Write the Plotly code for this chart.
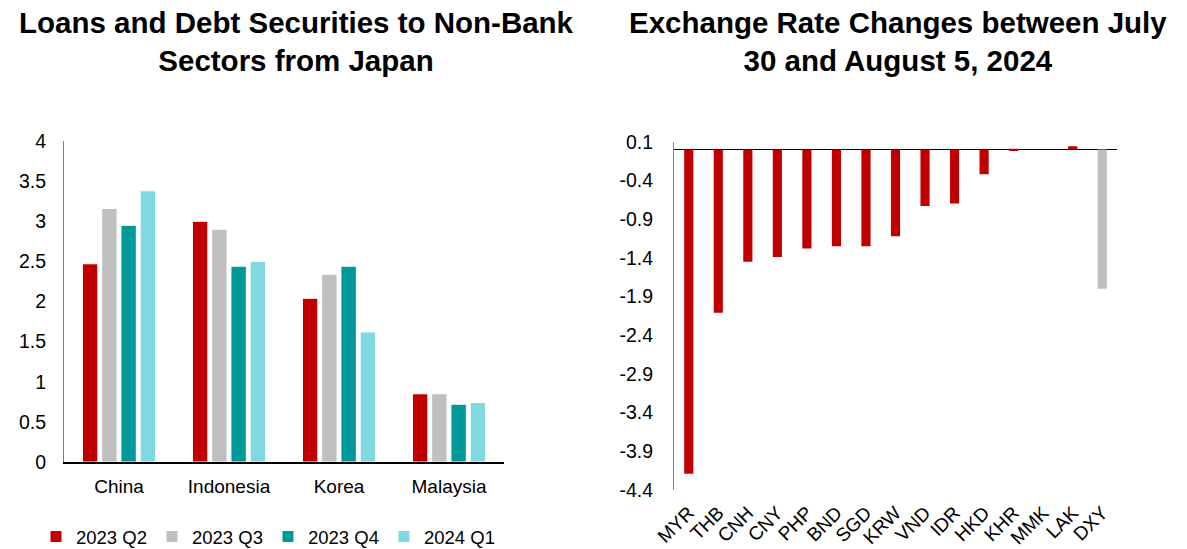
import plotly.graph_objects as go

# Left chart data
countries = ["China", "Indonesia", "Korea", "Malaysia"]
series_names = ["2023 Q2", "2023 Q3", "2023 Q4", "2024 Q1"]
q2_2023 = [2.47, 3.00, 2.04, 0.85]
q3_2023 = [3.16, 2.90, 2.34, 0.85]
q4_2023 = [2.95, 2.44, 2.44, 0.72]
q1_2024 = [3.38, 2.50, 1.62, 0.74]
left_colors = ["#C00000", "#BFBFBF", "#009999", "#80D8E0"]

# Right chart data
currencies = ["MYR", "THB", "CNH", "CNY", "PHP", "BND", "SGD", "KRW", "VND",
              "IDR", "HKD", "KHR", "MMK", "LAK", "DXY"]
fx_changes = [-4.19, -2.11, -1.45, -1.39, -1.28, -1.25, -1.25, -1.12, -0.73,
              -0.70, -0.32, -0.02, 0.0, 0.04, -1.80]
fx_colors = ["#C00000"] * 14 + ["#BFBFBF"]
fx_ticks = [0.1, -0.4, -0.9, -1.4, -1.9, -2.4, -2.9, -3.4, -3.9, -4.4]

FONT = "Liberation Sans, Arial, sans-serif"

fig = go.Figure()
for name, vals, col in zip(series_names, [q2_2023, q3_2023, q4_2023, q1_2024], left_colors):
    fig.add_trace(go.Bar(x=countries, y=vals, name=name, marker_color=col,
                         marker_line=dict(color="white", width=1),
                         xaxis="x", yaxis="y"))

fig.add_trace(go.Bar(x=currencies, y=fx_changes, marker_color=fx_colors,
                     marker_line=dict(width=0), showlegend=False,
                     xaxis="x2", yaxis="y2", width=0.31))

# page body adds an 8px offset; figure sized to the remaining viewport
OFF = 8
W, H = 1187 - OFF, 549 - OFF


def px(x):
    return (x - OFF) / W


def py(y):
    return 1 - (y - OFF) / H


fig.update_layout(
    width=W, height=H,
    margin=dict(l=0, r=0, t=0, b=0, autoexpand=False),
    plot_bgcolor="white", paper_bgcolor="white",
    font=dict(family=FONT, size=19, color="#000000"),
    barmode="group", bargap=0.3, bargroupgap=0.2,
    xaxis=dict(domain=[px(64), px(504)], anchor="y", showline=True,
               linecolor="#000000", linewidth=1.5, ticks="", showgrid=False,
               tickfont=dict(size=19), automargin=False, ticklabelstandoff=6),
    yaxis=dict(domain=[py(462), py(141)], anchor="x", range=[0, 4],
               dtick=0.5, showline=True, linecolor="#7F7F7F", linewidth=1,
               showgrid=False, zeroline=False, ticks="", ticklabelstandoff=13,
               tickfont=dict(size=19.5), automargin=False),
    xaxis2=dict(domain=[px(674), px(1117)], anchor="y2", showline=False,
                ticks="", showgrid=False, tickangle=-45, tickfont=dict(size=19),
                ticklabelstandoff=7, automargin=False),
    yaxis2=dict(domain=[py(490), py(141.7)], anchor="x2",
                range=[-4.4, 0.1], tickvals=fx_ticks,
                ticktext=[f"{v:.1f}" for v in fx_ticks], showline=True,
                linecolor="#7F7F7F", linewidth=1, showgrid=False,
                zeroline=True, zerolinecolor="#000000", zerolinewidth=1.2,
                ticks="", ticklabelstandoff=16, tickfont=dict(size=19.5),
                automargin=False),
    legend=dict(orientation="h", x=px(268), xanchor="center", y=py(537),
                yanchor="middle", font=dict(size=18.5), itemwidth=30,
                traceorder="normal"),
    annotations=[
        dict(text="<b>Loans and Debt Securities to Non-Bank<br>Sectors from Japan</b>",
             x=px(296), y=py(41), xref="paper", yref="paper", showarrow=False,
             xanchor="center", yanchor="middle",
             font=dict(size=29.5, family=FONT), align="center"),
        dict(text="<b>Exchange Rate Changes between July<br>30 and August 5, 2024</b>",
             x=px(898), y=py(41), xref="paper", yref="paper", showarrow=False,
             xanchor="center", yanchor="middle",
             font=dict(size=29.5, family=FONT), align="center"),
    ],
)

fig.write_html("out.html")
